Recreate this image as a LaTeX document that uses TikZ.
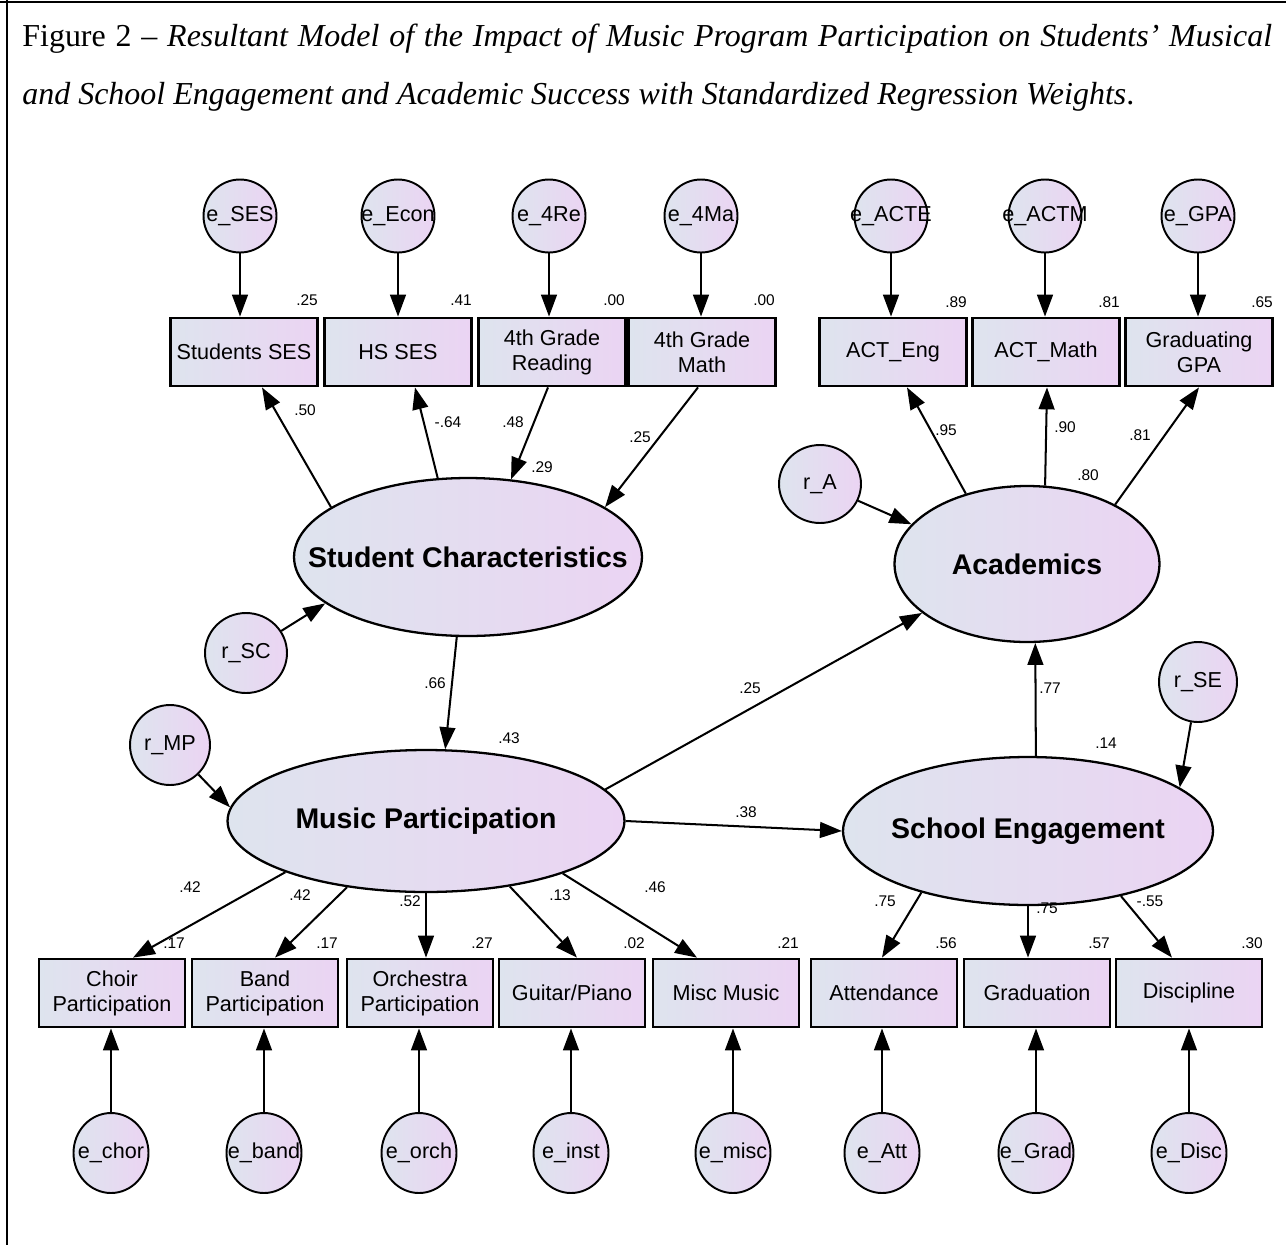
\documentclass[tikz,border=0pt]{standalone}
\usepackage{fontspec}
\setmainfont{Liberation Serif}
\setsansfont{Liberation Sans}
\usetikzlibrary{shapes.geometric,arrows.meta,calc}
\definecolor{gl}{RGB}{222,228,238}
\definecolor{gr}{RGB}{235,212,243}
\newcommand{\zw}[1]{\makebox[0pt]{#1}}
\begin{document}
\begin{tikzpicture}[x=0.02cm,y=-0.02cm,
  obs/.style={rectangle,draw,line width=1.6pt,left color=gl,right color=gr,
    minimum width=2.93cm,minimum height=1.36cm,inner sep=0pt,align=center,
    font=\sffamily\fontsize{12.3}{14.2}\selectfont},
  err/.style={ellipse,draw,line width=1.1pt,left color=gl,right color=gr,
    minimum width=1.46cm,minimum height=1.46cm,inner sep=0pt,
    font=\sffamily\fontsize{12.3}{14}\selectfont},
  lat/.style={ellipse,draw,line width=1.3pt,left color=gl,right color=gr,
    inner sep=0pt,font=\sffamily\bfseries\fontsize{16.2}{18}\selectfont},
  arr/.style={line width=1.15pt,-{Triangle[length=12.5pt,width=9pt]}},
  num/.style={font=\sffamily\fontsize{8.8}{10}\selectfont,inner sep=0pt},
  ttl/.style={anchor=base west,inner sep=0pt,font=\fontsize{18.2}{20}\selectfont}]
\useasboundingbox (0,0) rectangle (1286,1245);
% frame
\draw[line width=1.7pt] (0,2) -- (1286,2);
\draw[line width=1.7pt] (7,0) -- (7,1245);
% title
\node[ttl] (t1) at (22,46) {\makebox[25cm][s]{Figure 2 -- \textit{Resultant Model of the Impact of Music Program Participation on Students’ Musical}}};
\node[ttl] (t2) at (22,104) {\textit{and School Engagement and Academic Success with Standardized Regression Weights}.};
% top observed
\node[obs] (bSES) at (244,352) {Students SES};
\node[obs] (bHS) at (398,352) {HS SES};
\node[obs] (bRead) at (552,352) {4th Grade\\Reading};
\node[obs] (bMath) at (702,352) {4th Grade\\Math};
\node[obs] (bEng) at (893,352) {ACT\_Eng};
\node[obs] (bAMath) at (1046,352) {ACT\_Math};
\node[obs] (bGPA) at (1199,352) {Graduating\\GPA};
% top errors
\node[err] (eSES) at (240,216) {\zw{e\_SES}};
\node[err] (eEcon) at (398,216) {\zw{e\_Econ}};
\node[err] (e4Re) at (549,216) {\zw{e\_4Re}};
\node[err] (e4Ma) at (701,216) {\zw{e\_4Ma}};
\node[err] (eACTE) at (891,216) {\zw{e\_ACTE}};
\node[err] (eACTM) at (1045,216) {\zw{e\_ACTM}};
\node[err] (eGPA) at (1198,216) {\zw{e\_GPA}};
% latents
\node[lat,minimum width=6.96cm,minimum height=3.16cm] (sc) at (468,557) {\zw{Student Characteristics}};
\node[lat,minimum width=5.3cm,minimum height=3.12cm] (acad) at (1027,564) {\zw{Academics}};
\node[lat,minimum width=7.94cm,minimum height=2.84cm] (mp) at (426,821) {\zw{Music Participation}};
\node[lat,minimum width=7.4cm,minimum height=2.96cm] (se) at (1028,831) {\zw{School Engagement}};
% residuals
\node[err,minimum width=1.64cm,minimum height=1.6cm] (rSC) at (246,653) {\zw{r\_SC}};
\node[err,minimum width=1.64cm,minimum height=1.56cm] (rA) at (820,484) {\zw{r\_A}};
\node[err,minimum width=1.6cm,minimum height=1.6cm] (rMP) at (170,745) {\zw{r\_MP}};
\node[err,minimum width=1.56cm,minimum height=1.6cm] (rSE) at (1198,682) {\zw{r\_SE}};
% bottom observed
\node[obs,minimum width=2.92cm] (cho) at (112,993) {Choir\\Participation};
\node[obs,minimum width=2.92cm] (band) at (265,993) {Band\\Participation};
\node[obs,minimum width=2.92cm] (orch) at (420,993) {Orchestra\\Participation};
\node[obs,minimum width=2.92cm] (gui) at (572,993) {Guitar/Piano};
\node[obs,minimum width=2.92cm] (misc) at (726,993) {Misc Music};
\node[obs,minimum width=2.92cm] (att) at (884,993) {Attendance};
\node[obs,minimum width=2.92cm] (grad) at (1037,993) {Graduation};
\node[obs,minimum width=2.92cm] (disc) at (1189,993) {Discipline};
% bottom errors
\foreach \n/\x/\t in {echor/111/e\_chor, eband/264/e\_band, eorch/419/e\_orch, einst/571/e\_inst, emisc/733/e\_misc, eAtt/882/e\_Att, eGrad/1036/e\_Grad, eDisc/1189/e\_Disc}
  \node[err,minimum width=1.5cm,minimum height=1.6cm] (\n) at (\x,1153) {\zw{\t}};
% error arrows
\foreach \e/\b in {eSES/bSES,eEcon/bHS,e4Re/bRead,e4Ma/bMath,eACTE/bEng,eACTM/bAMath,eGPA/bGPA}
  \draw[arr] (\e) -- (\e |- \b.north);
\foreach \e/\b in {echor/cho,eband/band,eorch/orch,einst/gui,emisc/misc,eAtt/att,eGrad/grad,eDisc/disc}
  \draw[arr] (\e) -- (\e |- \b.south);
% structural / measurement arrows
\draw[arr] (sc.160) -- ($(bSES.south)+(18,0)$);
\draw[arr] (sc.111) -- ($(bHS.south)+(17,0)$);
\draw[arr] ($(bRead.south)+(-4,0)$) -- (sc.61);
\draw[arr] ($(bMath.south)+(-4,0)$) -- (sc.20);
\draw[arr] (rSC) -- (sc.198);
\draw[arr] (sc.262) -- (mp.75);
\draw[arr] (rMP) -- (mp.176);
\draw[arr] (acad.131) -- ($(bEng.south)+(14,0)$);
\draw[arr] (acad.77) -- ($(bAMath.south)+(1,0)$);
\draw[arr] (acad.34) -- (bGPA.south);
\draw[arr] (rA) -- (acad.161);
\draw[arr] (mp.10) -- (acad.205);
\draw[arr] (mp.0) -- (se.180);
\draw[arr] (se.84) -- (acad.276);
\draw[arr] (rSE) -- (se.16);
\draw[arr] (mp.200) -- ($(cho.north)+(21,0)$);
\draw[arr] (mp.220) -- ($(band.north)+(10,0)$);
\draw[arr] (mp.270) -- ($(orch.north)+(6,0)$);
\draw[arr] (mp.322) -- ($(gui.north)+(5,0)$);
\draw[arr] (mp.339) -- ($(misc.north)+(-29,0)$);
\draw[arr] (se.210) -- ($(att.north)+(-2,0)$);
\draw[arr] (se.270) -- ($(grad.north)+(-9,0)$);
\draw[arr] (se.325) -- ($(disc.north)+(-17,0)$);
% numbers
\foreach \n/\x/\y/\t in {
  n1/307/300/.25, n2/461/300/.41, n3/614/300/.00, n4/764/300/.00,
  n5/956/302/.89, n6/1109/302/.81, n7/1262/302/.65,
  n8/305/410/.50, n9/448/422/-.64, n10/513/422/.48, n11/640/437/.25, n12/542/467/.29,
  n13/946/430/.95, n14/1065/427/.90, n15/1140/435/.81, n16/1088/475/.80,
  n17/435/683/.66, n18/509/738/.43, n19/750/688/.25, n20/746/812/.38, n21/1050/688/.77, n22/1106/743/.14,
  n23/190/887/.42, n24/300/895/.42, n25/410/901/.52, n26/560/895/.13, n27/655/887/.46,
  n28/885/901/.75, n29/1047/908/.75, n30/1150/901/-.55,
  n31/174/943/.17, n32/327/943/.17, n33/482/943/.27, n34/634/943/.02, n35/788/943/.21,
  n36/946/943/.56, n37/1099/943/.57, n38/1252/943/.30}
  \node[num] (\n) at (\x,\y) {\t};
\end{tikzpicture}
\end{document}
